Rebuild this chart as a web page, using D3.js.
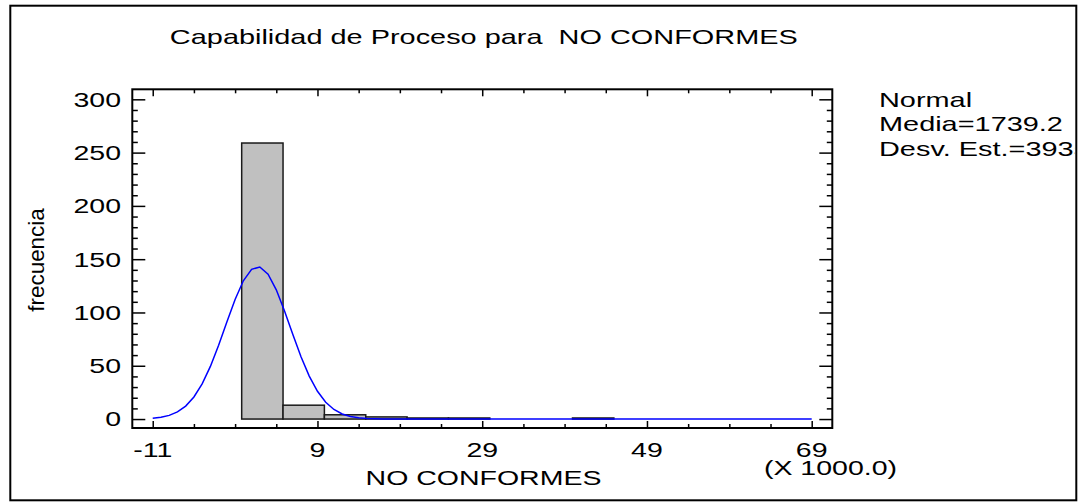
<!DOCTYPE html>
<html>
<head>
<meta charset="utf-8">
<script src="https://cdn.jsdelivr.net/npm/d3@7"></script>
<style>
  html, body { margin: 0; padding: 0; background: #fff; overflow: hidden; }
  svg text { font-family: "Liberation Sans", Arial, Helvetica, sans-serif; fill: #000; white-space: pre; }
</style>
</head>
<body>
<svg id="chart" width="1080" height="502"></svg>
<script>
// Histogram of NO CONFORMES (values in thousands): lower bin edges and counts
const binStarts = [-0.2, 4.82, 9.84, 14.86, 19.88, 24.9, 29.92, 34.94, 39.96];
const binWidth = 5.02;
const binCounts = [259, 13, 4, 2, 1, 1, 0, 0, 1];

// Fitted normal distribution (raw units)
const fitMean = 1739.2;
const fitSd = 3935;
const axisMultiplier = 1000.0;

// Axis ticks
const xMajorTicks = [-11, 9, 29, 49, 69];
const xMinorTicks = [-6, -1, 4, 14, 19, 24, 34, 39, 44, 54, 59, 64];
const yMajorTicks = [0, 50, 100, 150, 200, 250, 300];
const yMinorTicks = [10, 20, 30, 40, 60, 70, 80, 90, 110, 120, 130, 140, 160, 170, 180, 190,
                     210, 220, 230, 240, 260, 270, 280, 290];

// Texts
const titleText = "Capabilidad de Proceso para  NO CONFORMES";
const xLabelText = "NO CONFORMES";
const yLabelText = "frecuencia";
const legendTitle = "Normal";

const svg = d3.select("#chart");
const FONT = 20.5;
const SX = 1.39; // wide lettering of the plotting package

const x = d3.scaleLinear().domain([-13.48, 71.5]).range([132.3, 832.3]);
const y = d3.scaleLinear().domain([-8.4, 309.4]).range([428, 89.3]);

// Outer border
svg.append("rect")
  .attr("x", 10.3).attr("y", 5.7)
  .attr("width", 1066).attr("height", 494.6)
  .attr("fill", "none").attr("stroke", "#000").attr("stroke-width", 2);

// helper for stretched horizontal text
function hText(g, str, px, py, anchor, sx) {
  return g.append("text")
    .attr("transform", `translate(${px},${py}) scale(${sx || SX},1)`)
    .attr("text-anchor", anchor || "start")
    .attr("font-size", FONT)
    .text(str);
}

// Title
hText(svg, titleText, 483.8, 43.5, "middle", 1.41);

// Bars
const bins = binStarts.map((s, i) => ({ x0: s, x1: s + binWidth, n: binCounts[i] }))
  .filter(d => d.n > 0);
svg.append("g").selectAll("rect")
  .data(bins)
  .join("rect")
  .attr("x", d => x(d.x0))
  .attr("width", d => x(d.x1) - x(d.x0))
  .attr("y", d => y(d.n))
  .attr("height", d => y(0) - y(d.n))
  .attr("fill", "#c0c0c0")
  .attr("stroke", "#1a1a1a")
  .attr("stroke-width", 1.5);

// Fitted normal curve, scaled to counts per bin
const total = d3.sum(binCounts);
const mu = fitMean / axisMultiplier;
const sigma = fitSd / axisMultiplier;
const curveXs = d3.range(0, 81).map(i => -11 + i * 1.0);
const density = v => total * binWidth * Math.exp(-0.5 * ((v - mu) / sigma) ** 2) / (sigma * Math.sqrt(2 * Math.PI));
svg.append("path")
  .datum(curveXs)
  .attr("fill", "none")
  .attr("stroke", "#0000ff")
  .attr("stroke-width", 1.5)
  .attr("d", d3.line().x(v => x(v)).y(v => y(density(v))));

// Plot frame
const [fx0, fx1] = x.range();
const [fy0, fy1] = y.range();
svg.append("rect")
  .attr("x", fx0).attr("y", fy1)
  .attr("width", fx1 - fx0).attr("height", fy0 - fy1)
  .attr("fill", "none").attr("stroke", "#000").attr("stroke-width", 2);

// Inward tick marks on all four sides
function addAxis(axisFn, scale, values, size, tx, ty) {
  const g = svg.append("g")
    .attr("transform", `translate(${tx},${ty})`)
    .call(axisFn(scale).tickValues(values).tickSize(size).tickFormat(""));
  g.select(".domain").remove();
  g.selectAll(".tick line").attr("stroke", "#000").attr("stroke-width", 1.5);
}
addAxis(d3.axisLeft, y, yMajorTicks, -13, fx0, 0);
addAxis(d3.axisLeft, y, yMinorTicks, -5.5, fx0, 0);
addAxis(d3.axisRight, y, yMajorTicks, -13, fx1, 0);
addAxis(d3.axisRight, y, yMinorTicks, -5.5, fx1, 0);
addAxis(d3.axisBottom, x, xMajorTicks, -7, 0, fy0);
addAxis(d3.axisBottom, x, xMinorTicks, -4, 0, fy0);
addAxis(d3.axisTop, x, xMajorTicks, -7, 0, fy1);
addAxis(d3.axisTop, x, xMinorTicks, -4, 0, fy1);

// Tick labels
const yLab = svg.append("g");
yMajorTicks.forEach(v => hText(yLab, String(v), 121, y(v) + 7.4, "end"));
const xLab = svg.append("g");
xMajorTicks.forEach(v => hText(xLab, String(v), x(v), 457, "middle"));
hText(svg, `(X ${axisMultiplier.toFixed(1)})`, 897, 475, "end");

// Axis titles
hText(svg, xLabelText, 483.5, 485, "middle");
svg.append("text")
  .attr("transform", `translate(43.5,260) rotate(-90) scale(1.02,1)`)
  .attr("text-anchor", "middle")
  .attr("font-size", 22)
  .text(yLabelText);

// Legend box with fit parameters
svg.append("defs").append("clipPath").attr("id", "legendClip")
  .append("rect").attr("x", 860).attr("y", 80).attr("width", 215).attr("height", 105);
const leg = svg.append("g").attr("clip-path", "url(#legendClip)");
leg.append("rect").attr("x", 860).attr("y", 80).attr("width", 220).attr("height", 105).attr("fill", "#fff");
hText(leg, legendTitle, 879, 106.5, "start", 1.41);
hText(leg, `Media=${fitMean.toFixed(1)}`, 879, 131.3, "start", 1.41);
hText(leg, `Desv. Est.=${fitSd}`, 879, 156, "start", 1.41);
</script>
</body>
</html>
